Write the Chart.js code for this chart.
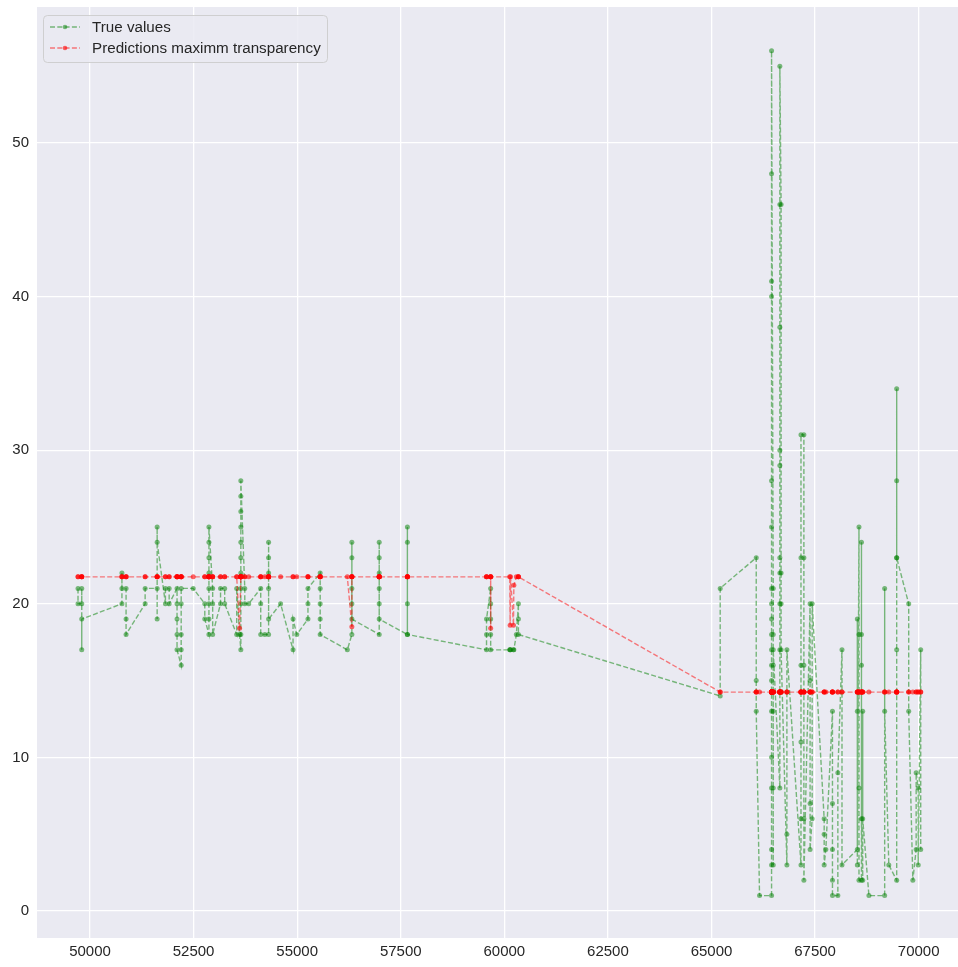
<!DOCTYPE html>
<html>
<head>
<meta charset="utf-8">
<title>True values vs predictions</title>
<script src="https://cdn.jsdelivr.net/npm/chart.js@4.4.1/dist/chart.umd.min.js"></script>
<style>
  html, body { margin: 0; padding: 0; background: #fff; }
  #chart { display: block; }
</style>
</head>
<body>
<canvas id="chart" width="958" height="967"></canvas>
<script>
var xTicks = [50000, 52500, 55000, 57500, 60000, 62500, 65000, 67500, 70000];
var yTicks = [0, 10, 20, 30, 40, 50];
var seriesLabels = ["True values", "Predictions maximm transparency"];

// samples in recorded order (the lines join them in this order)
var xs = [
    49710, 49710, 49800, 49800, 49800, 49800,
    50770, 50770, 50770, 50870, 50870, 50870,
    51330, 51330, 51620, 51620, 51620, 51620,
    51820, 51820, 51910, 51910,
    52100, 52100, 52100, 52100, 52100,
    52200, 52200, 52200, 52200, 52200,
    52490, 52770, 52770,
    52870, 52870, 52870, 52870, 52870, 52870, 52870, 52870,
    52960, 52960, 52960, 53150, 53150, 53250, 53250,
    53540, 53540, 53610,
    53640, 53640, 53640, 53640, 53640, 53640, 53640, 53640, 53640, 53640, 53640,
    53735, 53735, 53830, 54120, 54120, 54120, 54220,
    54310, 54310, 54310, 54310, 54310, 54310,
    54600, 54900, 54900, 54990, 55260, 55260, 55260,
    55555, 55555, 55555, 55555, 55555, 56210,
    56320, 56320, 56320, 56320, 56320, 56320,
    56980, 56980, 56980, 56980, 56980, 56980, 56980,
    57660, 57660, 57660, 57660, 57660,
    59570, 59570, 59570, 59670, 59670, 59670, 59670, 59670,
    60130, 60140, 60150, 60220, 60230, 60290, 60340, 60340, 60340,
    65210, 65210, 66080, 66080, 66080, 66160,
    66450, 66450, 66450, 66450, 66450, 66450, 66450, 66450, 66450, 66450,
    66450, 66450, 66450, 66450, 66450, 66450, 66450, 66450, 66450,
    66490, 66490, 66490, 66490, 66490, 66490, 66490,
    66650, 66650, 66650, 66650, 66650, 66650, 66650, 66650, 66650, 66650,
    66680, 66680, 66680, 66680, 66820, 66820, 66820,
    67160, 67160, 67160, 67160, 67160, 67160,
    67230, 67230, 67230, 67230, 67230,
    67380, 67380, 67380, 67380, 67430, 67430,
    67720, 67720, 67720, 67760, 67920, 67920, 67920, 67920, 67920,
    68050, 68050, 68150, 68150,
    68520, 68520, 68520, 68520, 68560, 68560, 68560, 68560,
    68620, 68620, 68620, 68620, 68620, 68650, 68650, 68650, 68800,
    69180, 69180, 69180, 69280, 69470, 69470, 69470, 69470, 69470, 69470,
    69760, 69760, 69860, 69940, 69940, 69990, 69990, 70050, 70050
];

var trueVals = [
    21, 20, 20, 21, 17, 19,
    20, 22, 21, 21, 19, 18,
    20, 21, 21, 19, 25, 24,
    20, 21, 21, 20,
    21, 20, 19, 18, 17,
    16, 17, 18, 20, 21,
    21, 20, 19,
    18, 19, 20, 21, 22, 23, 24, 25,
    21, 20, 18, 20, 21, 21, 20,
    18, 21, 18,
    17, 18, 20, 21, 22, 23, 24, 25, 26, 27, 28,
    21, 20, 20, 21, 20, 18, 18,
    18, 21, 22, 23, 24, 19,
    20, 17, 19, 18, 19, 20, 21,
    22, 21, 20, 19, 18, 17,
    18, 21, 23, 24, 20, 19,
    18, 24, 23, 22, 21, 20, 19,
    18, 20, 24, 25, 18,
    17, 18, 19, 21, 20, 19, 18, 17,
    17, 17, 17, 17, 17, 18, 20, 19, 18,
    14, 21, 23, 15, 13, 1,
    1, 3, 4, 8, 10, 13, 15, 16, 17, 18,
    19, 20, 21, 25, 28, 40, 41, 48, 56,
    21, 18, 16, 13, 8, 3, 17,
    8, 17, 20, 22, 23, 29, 30, 38, 46, 55,
    46, 22, 20, 17, 3, 5, 17,
    3, 6, 11, 16, 23, 31,
    31, 23, 16, 6, 2,
    20, 15, 7, 4, 6, 20,
    6, 5, 3, 4, 13, 7, 4, 2, 1,
    1, 9, 17, 3,
    4, 13, 19, 3, 25, 18, 8, 2,
    2, 24, 18, 16, 6, 2, 13, 6, 1,
    1, 21, 13, 3, 2, 17, 23, 28, 34, 23,
    20, 13, 2, 4, 9, 8, 3, 17, 4
];

var predVals = [
    21.75, 21.75, 21.75, 21.75, 21.75, 21.75,
    21.75, 21.75, 21.75, 21.75, 21.75, 21.75,
    21.75, 21.75, 21.75, 21.75, 21.75, 21.75,
    21.75, 21.75, 21.75, 21.75,
    21.75, 21.75, 21.75, 21.75, 21.75,
    21.75, 21.75, 21.75, 21.75, 21.75,
    21.75, 21.75, 21.75,
    21.75, 21.75, 21.75, 21.75, 21.75, 21.75, 21.75, 21.75,
    21.75, 21.75, 21.75, 21.75, 21.75, 21.75, 21.75,
    21.75, 21.75, 18.4,
    21.75, 21.75, 21.75, 21.75, 21.75, 21.75, 21.75, 21.75, 21.75, 21.75, 21.75,
    21.75, 21.75, 21.75, 21.75, 21.75, 21.75, 21.75,
    21.75, 21.75, 21.75, 21.75, 21.75, 21.75,
    21.75, 21.75, 21.75, 21.75, 21.75, 21.75, 21.75,
    21.75, 21.75, 21.75, 21.75, 21.75, 21.75,
    18.5, 21.75, 21.75, 21.75, 21.75, 21.75,
    21.75, 21.75, 21.75, 21.75, 21.75, 21.75, 21.75,
    21.75, 21.75, 21.75, 21.75, 21.75,
    21.75, 21.75, 21.75, 21.75, 21.75, 18.4, 21.75, 21.75,
    21.75, 18.6, 21.75, 18.6, 21.2, 21.75, 21.75, 21.75, 21.75,
    14.25, 14.25, 14.25, 14.25, 14.25, 14.25,
    14.25, 14.25, 14.25, 14.25, 14.25, 14.25, 14.25, 14.25, 14.25, 14.25,
    14.25, 14.25, 14.25, 14.25, 14.25, 14.25, 14.25, 14.25, 14.25,
    14.25, 14.25, 14.25, 14.25, 14.25, 14.25, 14.25,
    14.25, 14.25, 14.25, 14.25, 14.25, 14.25, 14.25, 14.25, 14.25, 14.25,
    14.25, 14.25, 14.25, 14.25, 14.25, 14.25, 14.25,
    14.25, 14.25, 14.25, 14.25, 14.25, 14.25,
    14.25, 14.25, 14.25, 14.25, 14.25,
    14.25, 14.25, 14.25, 14.25, 14.25, 14.25,
    14.25, 14.25, 14.25, 14.25, 14.25, 14.25, 14.25, 14.25, 14.25,
    14.25, 14.25, 14.25, 14.25,
    14.25, 14.25, 14.25, 14.25, 14.25, 14.25, 14.25, 14.25,
    14.25, 14.25, 14.25, 14.25, 14.25, 14.25, 14.25, 14.25, 14.25,
    14.25, 14.25, 14.25, 14.25, 14.25, 14.25, 14.25, 14.25, 14.25, 14.25,
    14.25, 14.25, 14.25, 14.25, 14.25, 14.25, 14.25, 14.25, 14.25
];

var FONT = '"Liberation Sans", Arial, sans-serif';
var TEXT_COLOR = '#262626';

function toPoints(ys) {
    var pts = [];
    for (var i = 0; i < xs.length; i++) {
        pts.push({x: xs[i], y: ys[i]});
    }
    return pts;
}

// grey panel behind the plot
var plotBackground = {
    id: 'plotBackground',
    beforeDraw: function(chart) {
        var a = chart.chartArea;
        var ctx = chart.ctx;
        ctx.save();
        ctx.fillStyle = '#EAEAF2';
        ctx.fillRect(a.left, a.top, a.right - a.left, a.bottom - a.top);
        ctx.restore();
    }
};

// framed legend in the top left corner, dashed sample with a dot in it
var boxLegend = {
    id: 'boxLegend',
    afterDraw: function(chart) {
        var ctx = chart.ctx;
        ctx.save();
        ctx.beginPath();
        if (ctx.roundRect) {
            ctx.roundRect(43.5, 15.5, 284, 47, 4);
        } else {
            ctx.rect(43.5, 15.5, 284, 47);
        }
        ctx.fillStyle = 'rgba(234,234,242,0.85)';
        ctx.fill();
        ctx.lineWidth = 1;
        ctx.strokeStyle = 'rgba(204,204,204,0.9)';
        ctx.stroke();

        chart.data.datasets.forEach(function(ds, i) {
            var y = 27 + i * 21;
            ctx.setLineDash(ds.borderDash);
            ctx.strokeStyle = ds.borderColor;
            ctx.lineWidth = ds.borderWidth;
            ctx.beginPath();
            ctx.moveTo(50, y);
            ctx.lineTo(80, y);
            ctx.stroke();
            ctx.setLineDash([]);
            ctx.fillStyle = ds.pointBackgroundColor;
            ctx.beginPath();
            ctx.arc(65, y, 2.3, 0, Math.PI * 2);
            ctx.fill();

            ctx.fillStyle = TEXT_COLOR;
            ctx.font = '15.2px ' + FONT;
            ctx.textBaseline = 'middle';
            ctx.textAlign = 'left';
            ctx.fillText(ds.label, 92, y + 1);
        });
        ctx.restore();
    }
};

function drawChart() {
    var ctx = document.getElementById('chart');
    var tickFont = {family: FONT, size: 15};

    new Chart(ctx, {
        type: 'scatter',
        data: {
            datasets: [
                {
                    label: seriesLabels[0],
                    data: toPoints(trueVals),
                    showLine: true,
                    order: 1,
                    borderColor: 'rgba(0,128,0,0.5)',
                    borderWidth: 1.4,
                    borderDash: [5, 2.3],
                    pointRadius: 2.5,
                    pointBorderWidth: 0,
                    pointBackgroundColor: 'rgba(0,128,0,0.5)'
                },
                {
                    label: seriesLabels[1],
                    data: toPoints(predVals),
                    showLine: true,
                    order: 0,
                    borderColor: 'rgba(255,0,0,0.5)',
                    borderWidth: 1.4,
                    borderDash: [5, 2.3],
                    pointRadius: 2.5,
                    pointBorderWidth: 0,
                    pointBackgroundColor: 'rgba(255,0,0,0.6)'
                }
            ]
        },
        options: {
            responsive: false,
            animation: false,
            devicePixelRatio: 1,
            layout: {
                autoPadding: false,
                padding: {top: 7, right: 0, bottom: 0, left: 0}
            },
            plugins: {
                legend: {display: false},
                tooltip: {enabled: false}
            },
            scales: {
                x: {
                    type: 'linear',
                    min: 48720,
                    max: 70950,
                    afterBuildTicks: function(scale) {
                        scale.ticks = xTicks.map(function(v) { return {value: v}; });
                    },
                    afterFit: function(scale) {
                        scale.height = 29;
                        scale.paddingLeft = 0;
                        scale.paddingRight = 0;
                    },
                    border: {display: false},
                    grid: {color: '#ffffff', lineWidth: 1.3, drawTicks: false},
                    ticks: {
                        padding: 5,
                        color: TEXT_COLOR,
                        font: tickFont,
                        maxRotation: 0,
                        autoSkip: false,
                        callback: function(v) { return String(v); }
                    }
                },
                y: {
                    type: 'linear',
                    min: -1.76,
                    max: 58.85,
                    afterBuildTicks: function(scale) {
                        scale.ticks = yTicks.map(function(v) { return {value: v}; });
                    },
                    afterFit: function(scale) {
                        scale.width = 37;
                        scale.paddingTop = 0;
                        scale.paddingBottom = 0;
                    },
                    border: {display: false},
                    grid: {color: '#ffffff', lineWidth: 1.3, drawTicks: false},
                    ticks: {
                        padding: 8,
                        color: TEXT_COLOR,
                        font: tickFont,
                        callback: function(v) { return String(v); }
                    }
                }
            }
        },
        plugins: [plotBackground, boxLegend]
    });
}

drawChart();
</script>
</body>
</html>
